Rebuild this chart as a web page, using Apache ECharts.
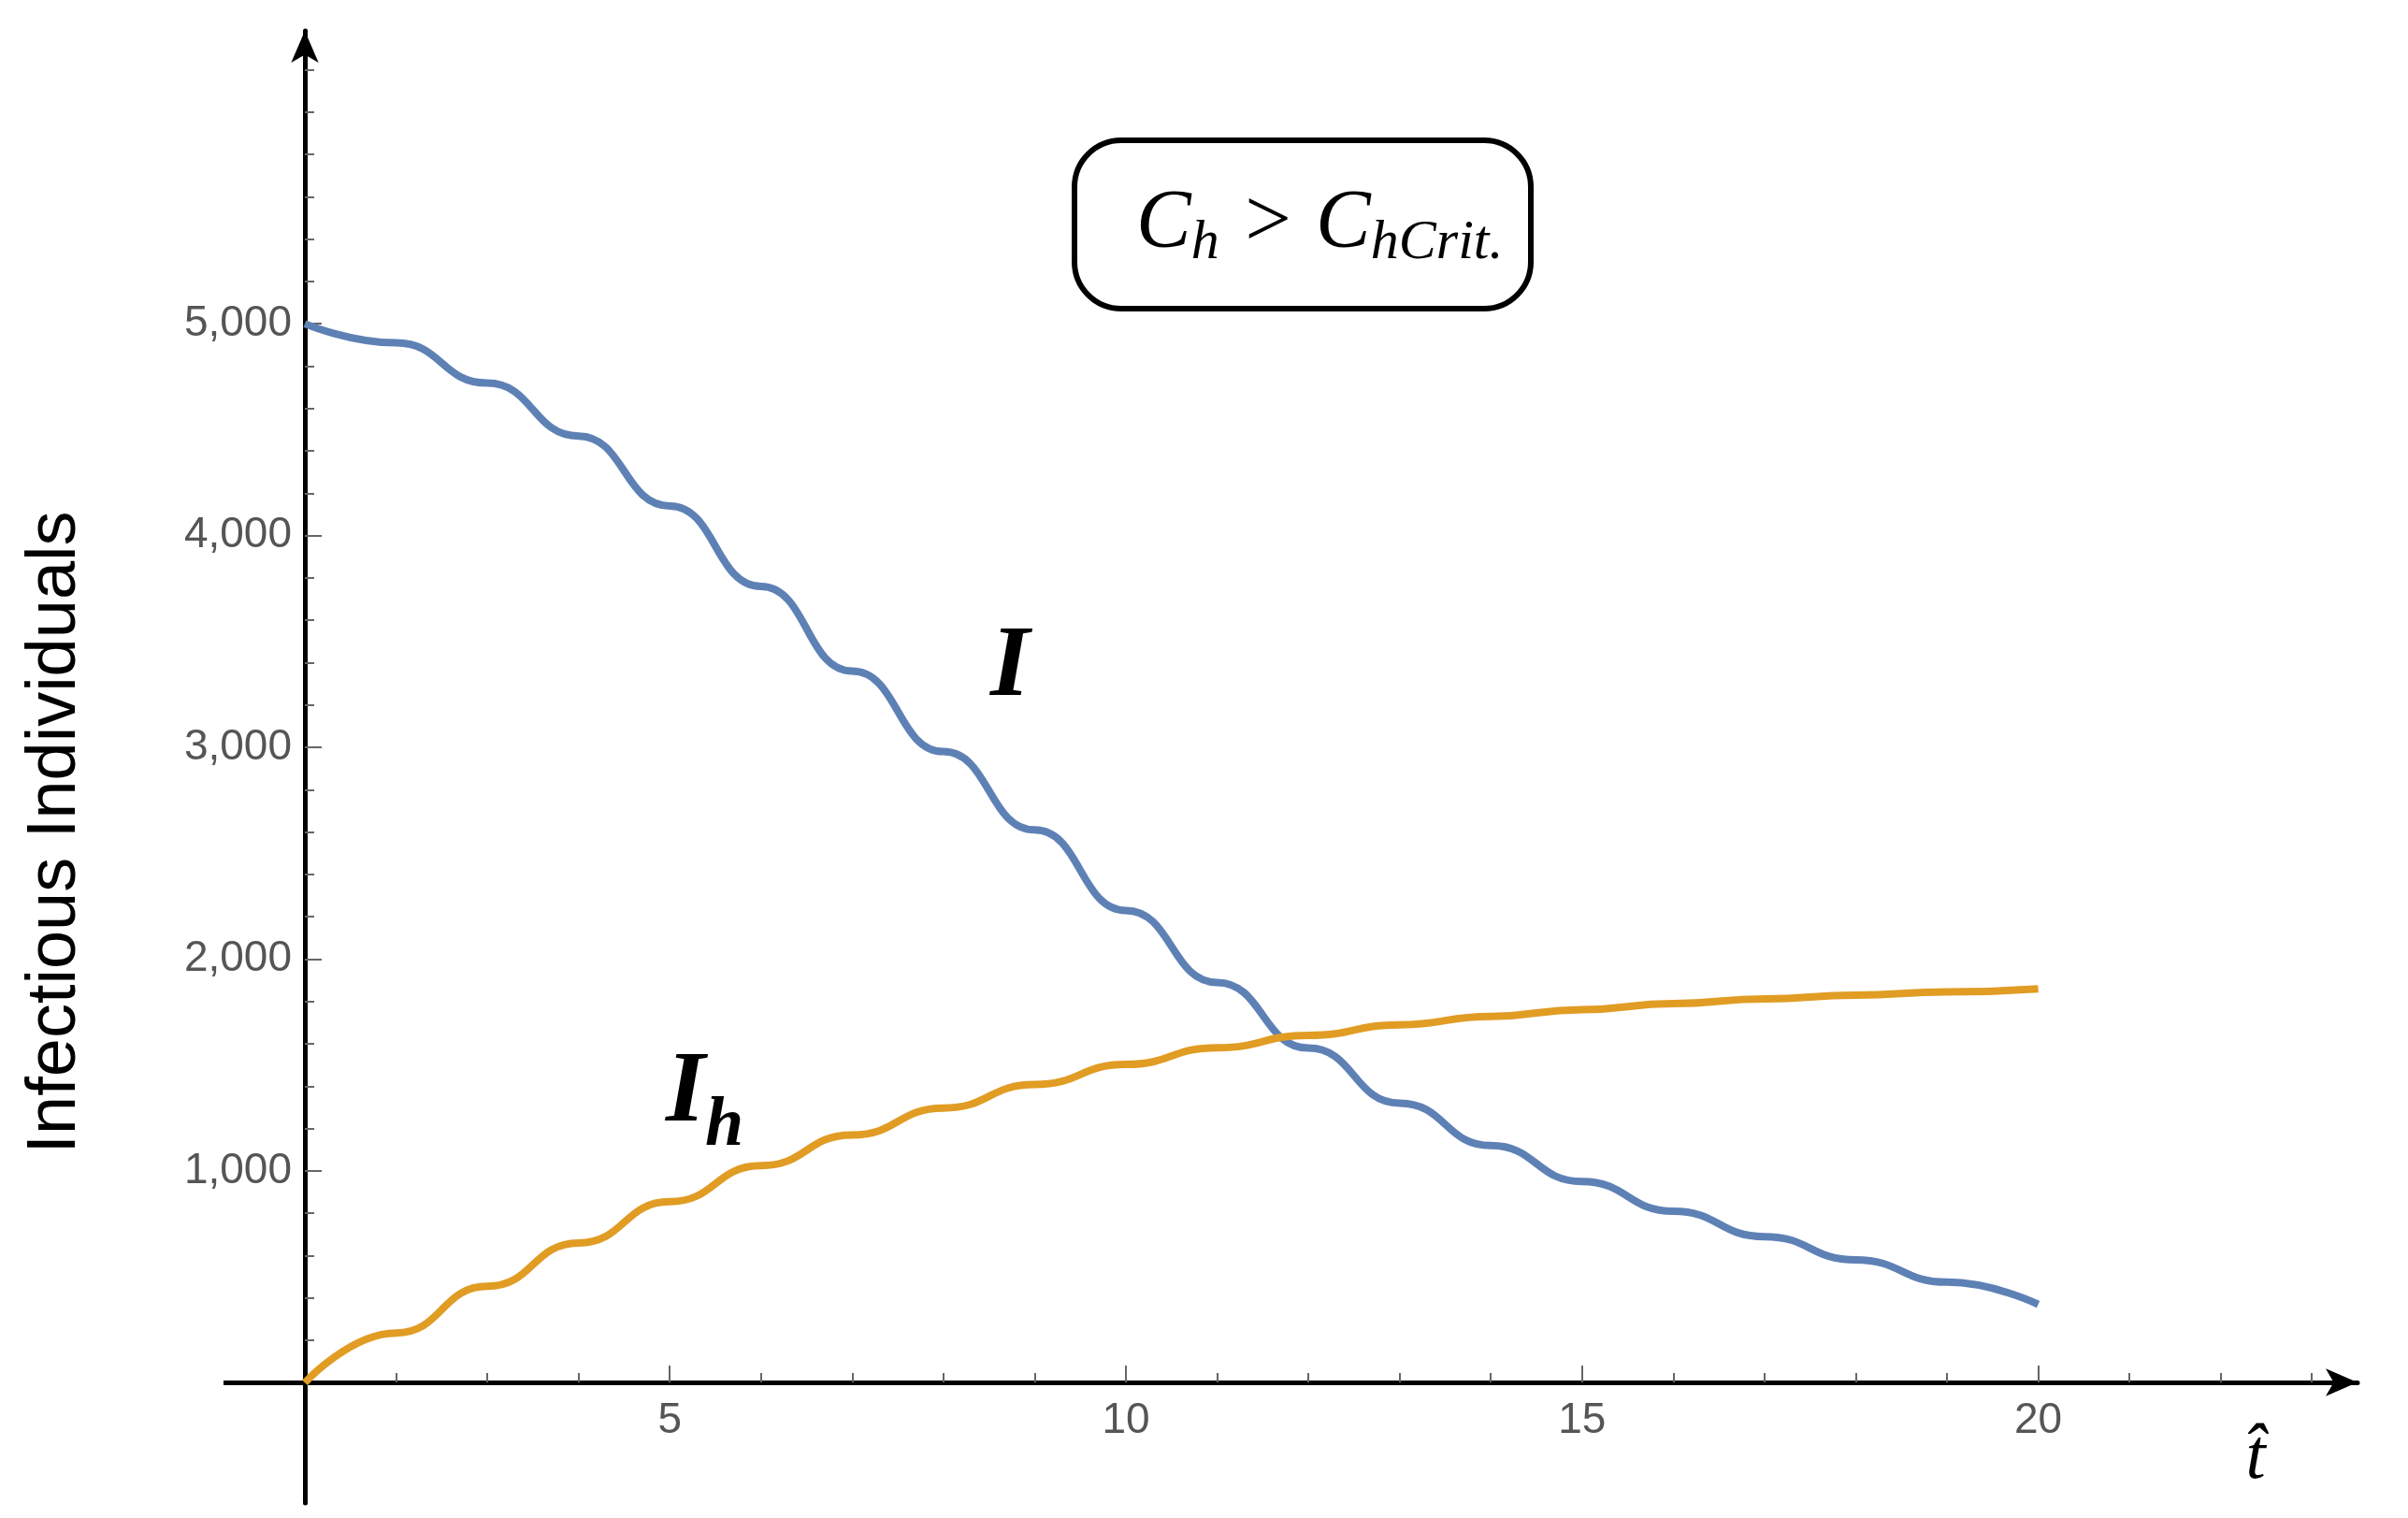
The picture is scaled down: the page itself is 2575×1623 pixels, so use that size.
<!DOCTYPE html>
<html><head><meta charset="utf-8">
<script src="https://cdn.jsdelivr.net/npm/echarts@6/dist/echarts.min.js"></script>
<style>html,body{margin:0;background:#fff}#c{width:2575px;height:1623px}</style>
</head><body><div id="c"></div>
<script>
const tValues = [1,2,3,4,5,6,7,8,9,10,11,12,13,14,15,16,17,18,19,20];
const I  = [5000,4910,4720,4470,4140,3760,3360,2980,2610,2230,1890,1580,1320,1120,950,810,690,580,475,370];
const Ih = [0,235,455,660,855,1025,1170,1297,1408,1503,1582,1640,1690,1730,1762,1790,1812,1830,1845,1860];
const xMajorTicks = [5,10,15,20];
const xMinorTicks = [2,3,4,6,7,8,9,11,12,13,14,16,17,18,19,21,22,23];
const yMajorTicks = [1000,2000,3000,4000,5000];
const yMinorTicks = [200,400,600,800,1200,1400,1600,1800,2200,2400,2600,2800,3200,3400,3600,3800,4200,4400,4600,4800,5200,5400,5600,5800,6000,6200];
const yMin = -568, yMax = 6383, gridTop = 33, gridBottom = 16, H = 1623;
const xOffset = -Math.round((0 - yMin) / (yMax - yMin) * (H - gridTop - gridBottom));
const chart = echarts.init(document.getElementById('c'));
const fmt = v => v.toLocaleString('en-US');
const lbl = {color:'#555', fontSize:46, fontFamily:'Liberation Sans'};
chart.setOption({
  animation:false,
  grid:{left:326,right:54,top:gridTop,bottom:gridBottom},
  xAxis:[
    {type:'value',min:1,max:23.5,position:'bottom',offset:xOffset,splitLine:{show:false},
     axisLine:{show:true,onZero:false,symbol:['none','arrow'],symbolSize:[22,34],lineStyle:{color:'#000',width:5}},
     axisTick:{show:true,inside:true,length:18,customValues:xMajorTicks,lineStyle:{color:'#666',width:2}},
     axisLabel:{...lbl,margin:18,customValues:xMajorTicks}},
    {type:'value',min:1,max:23.5,position:'bottom',offset:xOffset,splitLine:{show:false},
     axisLine:{show:false,onZero:false},
     axisTick:{show:true,inside:true,length:10,customValues:xMinorTicks,lineStyle:{color:'#666',width:2}},
     axisLabel:{show:false}}
  ],
  yAxis:[
    {type:'value',min:yMin,max:yMax,position:'left',splitLine:{show:false},
     axisLine:{show:true,onZero:false,symbol:['none','arrow'],symbolSize:[22,34],lineStyle:{color:'#000',width:5}},
     axisTick:{show:true,inside:true,length:18,customValues:yMajorTicks,lineStyle:{color:'#666',width:2}},
     axisLabel:{...lbl,margin:14,customValues:yMajorTicks,formatter:fmt}},
    {type:'value',min:yMin,max:yMax,position:'left',splitLine:{show:false},
     axisLine:{show:false,onZero:false},
     axisTick:{show:true,inside:true,length:10,customValues:yMinorTicks,lineStyle:{color:'#666',width:2}},
     axisLabel:{show:false}}
  ],
  series:[
    {type:'line',data:tValues.map((t,i)=>[t,I[i]]),smooth:true,smoothMonotone:'x',showSymbol:false,lineStyle:{color:'#5E81B5',width:8}},
    {type:'line',data:tValues.map((t,i)=>[t,Ih[i]]),smooth:true,smoothMonotone:'x',showSymbol:false,lineStyle:{color:'#E19C24',width:8}}
  ]
});
const y0 = chart.convertToPixel({yAxisIndex:0},0);
chart.setOption({graphic:[
  {type:'line',shape:{x1:239,y1:y0,x2:328,y2:y0},style:{stroke:'#000',lineWidth:5}},
  {type:'text',x:60,y:890,rotation:Math.PI/2,style:{text:'Infectious Individuals',font:'74px "Liberation Sans"',fill:'#000',align:'center',verticalAlign:'middle'}},
  {type:'text',x:2412,y:1560,style:{text:'t\u0302',font:'italic 76px "Liberation Serif"',fill:'#000',align:'center',verticalAlign:'middle'}},
  {type:'text',x:1080,y:715,style:{text:'I',font:'italic bold 108px "Liberation Serif"',fill:'#000',align:'center',verticalAlign:'middle'}},
  {type:'text',x:712,y:1170,style:{text:'{a|I}{b|h}',fill:'#000',rich:{a:{font:'italic bold 108px "Liberation Serif"'},b:{font:'italic bold 74px "Liberation Serif"',padding:[70,0,0,0]}},verticalAlign:'middle'}},
  {type:'rect',shape:{x:1149,y:150,width:488,height:180,r:50},style:{fill:'#fff',stroke:'#000',lineWidth:6}},
  {type:'text',x:1215,y:240,style:{text:'{a|C}{b|h}{a| > C}{b|hCrit.}',fill:'#000',rich:{a:{font:'italic 88px "Liberation Serif"'},b:{font:'italic 60px "Liberation Serif"',padding:[40,0,0,0]}},verticalAlign:'middle'}}
]});
</script></body></html>
